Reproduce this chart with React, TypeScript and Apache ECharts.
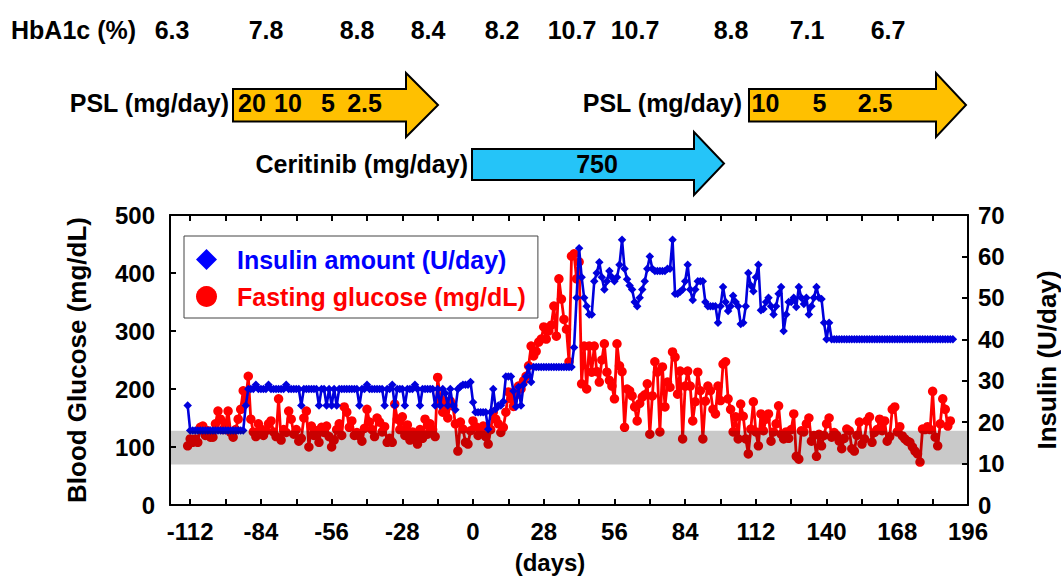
import React, { useEffect, useRef } from "react";
import * as echarts from "echarts";

// ---------- DATA ----------
const insulinStartDay = -113; // one value per day
const insulinValues: number[] = [
  24, 18, 18, 18, 18, 18, 18, 18, 18, 18,
  18, 18, 18, 18, 18, 18, 18, 18, 18, 18,
  18, 18, 18, 24, 28, 28, 28, 29, 28, 28,
  28, 28, 29, 28, 28, 28, 28, 28, 28, 29,
  28, 28, 28, 28, 28, 24, 28, 28, 28, 28,
  28, 28, 24, 28, 28, 24, 28, 24, 28, 24,
  28, 28, 28, 28, 28, 28, 28, 28, 24, 28,
  28, 29, 28, 28, 28, 28, 28, 28, 24, 28,
  28, 29, 24, 28, 28, 28, 24, 28, 28, 28,
  29, 28, 24, 28, 28, 28, 28, 28, 24, 28,
  24, 28, 27, 24, 28, 24, 23, 28, 28.6, 29,
  29, 29, 29.7, 24.8, 22.4, 22.4, 22.4, 22.4, 22.4, 18.3,
  22.4, 28, 23.2, 24, 24, 25, 31, 31, 31, 27.5,
  23.7, 28.5, 24, 29, 31, 33.3, 29.7, 33.3, 33.3, 33.3,
  33.3, 33.3, 33.3, 33.3, 33.3, 33.3, 33.3, 33.3, 33.3, 33.3,
  33.3, 33.3, 33.3, 38, 50, 62, 55, 50, 48, 46,
  46, 54, 56, 58.6, 55, 52, 54, 56.5, 55, 54,
  55, 58, 64, 57, 54.5, 53, 52, 49, 48, 50,
  52, 54, 57, 60, 57, 56.5, 56.5, 56.5, 56.5, 56.5,
  57, 57, 64, 51, 51, 51.5, 52, 54, 58, 52,
  49.5, 52, 54, 54, 54, 49, 48, 48, 48, 48,
  44, 48, 52.6, 49, 46.8, 48, 50.5, 49, 48, 43.7,
  44, 48, 56, 53, 51.6, 55, 58, 47, 47.3, 49,
  50, 48, 46, 48, 51, 52.6, 42, 46, 49, 49,
  50, 47.8, 52.6, 50, 48.5, 50, 46, 48, 50, 52.6,
  50, 49.7, 44, 40, 44, 40, 40, 40, 40, 40,
  40, 40, 40, 40, 40, 40, 40, 40, 40, 40,
  40, 40, 40, 40, 40, 40, 40, 40, 40, 40,
  40, 40, 40, 40, 40, 40, 40, 40, 40, 40,
  40, 40, 40, 40, 40, 40, 40, 40, 40, 40,
  40, 40, 40, 40,
];

const glucoseStartDay = -113; // one value per day
const glucoseValues: number[] = [
  102, 114, 108, 114, 108, 134, 136, 120, 128, 117,
  117, 140, 162, 148, 130, 140, 162, 125, 117, 130,
  148, 165, 197, 180, 222, 148, 126, 118, 140, 131,
  120, 128, 140, 145, 126, 118, 183, 112, 130, 125,
  162, 148, 122, 130, 110, 115, 150, 162, 100, 136,
  120, 128, 108, 134, 125, 136, 118, 100, 112, 130,
  140, 120, 169, 160, 134, 145, 120, 125, 119, 110,
  132, 165, 143, 130, 118, 150, 143, 126, 135, 108,
  115, 108, 174, 148, 130, 152, 120, 138, 112, 126,
  118, 105, 130, 115, 148, 122, 140, 130, 118, 220,
  183, 160, 179, 150, 179, 171, 140, 93, 143, 131,
  108, 105, 128, 145, 135, 120, 126, 136, 118, 105,
  130, 160, 148, 140, 125, 134, 160, 195, 183, 170,
  190, 205, 200, 214, 222, 240, 274, 257, 265, 281,
  286, 307, 286, 300, 310, 343, 291, 390, 355, 320,
  303, 247, 429, 433, 390, 419, 209, 274, 200, 274,
  229, 274, 230, 212, 250, 278, 229, 215, 205, 183,
  278, 240, 230, 134, 200, 197, 188, 169, 145, 175,
  186, 190, 209, 122, 188, 247, 229, 126, 238, 169,
  212, 203, 264, 255, 191, 231, 114, 205, 231, 205,
  145, 178, 229, 197, 114, 179, 205, 197, 165, 157,
  205, 180, 243, 247, 183, 165, 126, 152, 114, 174,
  153, 114, 88, 131, 178, 126, 102, 157, 128, 148,
  157, 110, 126, 140, 171, 122, 114, 126, 115, 130,
  157, 84, 79, 128, 126, 140, 150, 110, 120, 84,
  122, 102, 120, 140, 150, 117, 125, 120, 110, 97,
  115, 131, 128, 97, 93, 120, 143, 105, 114, 145,
  152, 108, 125, 130, 148, 128, 145, 110, 118, 165,
  169, 126, 135, 119, 114, 110, 108, 100, 93, 88,
  74, 131, 130, 135, 130, 196, 117, 102, 140, 183,
  165, 136, 145,
];

const normalRange = [70, 128]; // mg/dL shaded band

const xTickValues = [-112, -98, -84, -70, -56, -42, -28, -14, 0, 14, 28, 42, 56, 70, 84, 98, 112, 126, 140, 154, 168, 182, 196];
const xLabelValues = [-112, -84, -56, -28, 0, 28, 56, 84, 112, 140, 168, 196];

const hba1cLabel = "HbA1c (%)";
const hba1cValues = ["6.3", "7.8", "8.8", "8.4", "8.2", "10.7", "10.7", "8.8", "7.1", "6.7"];
const psl1Doses = ["20", "10", "5", "2.5"];
const psl2Doses = ["10", "5", "2.5"];
const ceritinibDose = "750";

const insulinName = "Insulin amount (U/day)";
const glucoseName = "Fasting glucose (mg/dL)";

// ---------- LAYOUT (annotation positions, px) ----------
const hba1cX = [172, 266, 357, 428, 502, 572, 635, 731, 807, 888];
const psl1X = [252, 288, 328, 364.5];
const psl2X = [765.5, 819.5, 875];

const FONT = '"Liberation Sans", Arial, Helvetica, sans-serif';
const BLUE = "#0000DC";
const RED = "#FF0000";

function arrowPoints(x0: number, xh: number, xt: number, bt: number, bb: number, ht: number, hb: number) {
  const my = (ht + hb) / 2;
  return [[x0, bt], [xh, bt], [xh, ht], [xt, my], [xh, hb], [xh, bb], [x0, bb]];
}

function txt(text: string, x: number, y: number, align: string, size = 25) {
  return {
    type: "text",
    x,
    y,
    z: 20,
    style: {
      text,
      fill: "#000",
      font: `bold ${size}px ${FONT}`,
      align,
      verticalAlign: "middle",
    },
  };
}

export default function App() {
  const ref = useRef<HTMLDivElement>(null);

  useEffect(() => {
    if (!ref.current) return;
    const chart = echarts.init(ref.current, undefined, { renderer: "svg" });

    const insulinData = insulinValues.map((v, i) => [insulinStartDay + i, v]);
    const glucoseData = glucoseValues.map((v, i) => [glucoseStartDay + i, v]);

    const axisLineStyle = { color: "#000", width: 2 };
    const labelStyle = { fontSize: 24, fontWeight: "bold", color: "#000", fontFamily: FONT };

    const graphics: any[] = [];
    graphics.push({
      type: "polygon",
      z: 10,
      shape: { points: arrowPoints(233, 406, 438, 89, 121.5, 73, 137) },
      style: { fill: "#FFC000", stroke: "#000", lineWidth: 2 },
    });
    graphics.push({
      type: "polygon",
      z: 10,
      shape: { points: arrowPoints(749, 936, 966, 89, 121.5, 73, 137) },
      style: { fill: "#FFC000", stroke: "#000", lineWidth: 2 },
    });
    graphics.push({
      type: "polygon",
      z: 10,
      shape: { points: arrowPoints(472, 694, 724, 149, 180, 132, 195) },
      style: { fill: "#25C4F8", stroke: "#000", lineWidth: 2 },
    });
    graphics.push(txt(hba1cLabel, 11, 30, "left"));
    hba1cValues.forEach((v, i) => graphics.push(txt(v, hba1cX[i], 30, "center")));
    graphics.push(txt("PSL (mg/day)", 229, 102.5, "right"));
    psl1Doses.forEach((v, i) => graphics.push(txt(v, psl1X[i], 102.5, "center")));
    graphics.push(txt("PSL (mg/day)", 742, 102.5, "right"));
    psl2Doses.forEach((v, i) => graphics.push(txt(v, psl2X[i], 102.5, "center")));
    graphics.push(txt("Ceritinib (mg/day)", 468, 163.5, "right"));
    graphics.push(txt(ceritinibDose, 597, 163.5, "center"));

    const option: any = {
      animation: false,
      backgroundColor: "#fff",
      grid: { left: 170, right: 93, top: 215, bottom: 73, containLabel: false, outerBoundsMode: "none" },
      legend: {
        orient: "vertical",
        left: 184,
        top: 236,
        padding: [11, 12, 9, 12],
        itemWidth: 21,
        itemHeight: 21,
        itemGap: 12,
        borderColor: "#444",
        borderWidth: 1,
        backgroundColor: "#fff",
        selectedMode: false,
        textStyle: { fontSize: 25, fontWeight: "bold", fontFamily: FONT, lineHeight: 25, padding: [0, 0, 0, 15] },
        data: [
          { name: insulinName, icon: "diamond", itemStyle: { color: "#0000FF" }, textStyle: { color: "#0000FF" } },
          { name: glucoseName, icon: "circle", itemStyle: { color: RED }, textStyle: { color: RED } },
        ],
      },
      xAxis: [
        {
          type: "value",
          min: -120,
          max: 196,
          position: "bottom",
          axisLine: { show: true, onZero: false, lineStyle: axisLineStyle },
          axisTick: { show: true, inside: true, length: 6, lineStyle: { color: "#000", width: 2 }, customValues: xTickValues },
          axisLabel: { ...labelStyle, margin: 14, customValues: xLabelValues },
          splitLine: { show: false },
          name: "(days)",
          nameLocation: "middle",
          nameGap: 45,
          nameTextStyle: { fontSize: 24, fontWeight: "bold", color: "#000", fontFamily: FONT, padding: [0, 38, 0, 0] },
        },
        {
          type: "value",
          min: -120,
          max: 196,
          position: "top",
          axisLine: { show: true, onZero: false, lineStyle: axisLineStyle },
          axisTick: { show: true, inside: true, length: 6, lineStyle: { color: "#000", width: 2 }, customValues: xTickValues },
          axisLabel: { show: false },
          splitLine: { show: false },
        },
      ],
      yAxis: [
        {
          type: "value",
          min: 0,
          max: 500,
          interval: 100,
          position: "left",
          axisLine: { show: true, onZero: false, lineStyle: axisLineStyle },
          axisTick: { show: true, inside: true, length: 6, lineStyle: { color: "#000", width: 2 } },
          axisLabel: { ...labelStyle, margin: 15, padding: [0, 0, 8, 0] },
          splitLine: { show: false },
          name: "Blood Glucose (mg/dL)",
          nameLocation: "middle",
          nameRotate: 90,
          nameGap: 80,
          nameTextStyle: { fontSize: 26, fontWeight: "bold", color: "#000", fontFamily: FONT },
        },
        {
          type: "value",
          min: 0,
          max: 70,
          interval: 10,
          position: "right",
          axisLine: { show: true, onZero: false, lineStyle: axisLineStyle },
          axisTick: { show: true, inside: true, length: 6, lineStyle: { color: "#000", width: 2 } },
          axisLabel: { ...labelStyle, margin: 10, padding: [0, 0, 8, 0] },
          splitLine: { show: false },
          name: "Insulin (U/day)",
          nameLocation: "middle",
          nameRotate: 90,
          nameGap: 66,
          nameTextStyle: { fontSize: 26, fontWeight: "bold", color: "#000", fontFamily: FONT },
        },
      ],
      series: [
        {
          name: glucoseName,
          type: "line",
          xAxisIndex: 0,
          yAxisIndex: 0,
          data: glucoseData,
          symbol: "circle",
          symbolSize: 9.5,
          showAllSymbol: true,
          lineStyle: { color: RED, width: 2.8 },
          itemStyle: { color: RED },
          z: 2,
        },
        {
          name: insulinName,
          type: "line",
          xAxisIndex: 0,
          yAxisIndex: 1,
          data: insulinData,
          symbol: "diamond",
          symbolSize: 8.5,
          showAllSymbol: true,
          lineStyle: { color: BLUE, width: 2.6 },
          itemStyle: { color: BLUE },
          z: 3,
        },
        {
          name: "normal range",
          type: "line",
          xAxisIndex: 0,
          yAxisIndex: 0,
          data: [],
          z: 5,
          markArea: {
            silent: true,
            z: 5,
            itemStyle: { color: "rgba(0,0,0,0.21)" },
            data: [[{ yAxis: normalRange[0] }, { yAxis: normalRange[1] }]],
          },
        },
      ],
      graphic: graphics,
    };

    chart.setOption(option);
    return () => chart.dispose();
  }, []);

  return (
    <div
      ref={ref}
      style={{ position: "fixed", left: 0, top: 0, width: 1061, height: 578, background: "#fff" }}
    />
  );
}
